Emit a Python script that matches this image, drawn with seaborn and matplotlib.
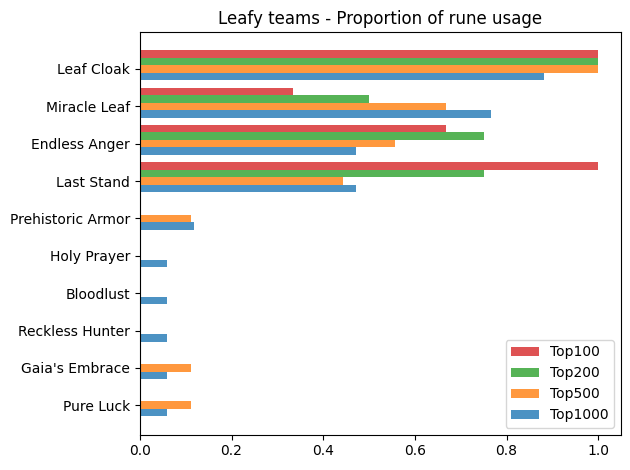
import numpy as np
import pandas as pd
import matplotlib.pyplot as plt
import seaborn as sns

runes = ["Leaf Cloak", "Miracle Leaf", "Endless Anger", "Last Stand", "Prehistoric Armor",
         "Holy Prayer", "Bloodlust", "Reckless Hunter", "Gaia's Embrace", "Pure Luck"]
top100 = [1.0, 0.333, 0.667, 1.0, 0, 0, 0, 0, 0, 0]
top200 = [1.0, 0.5, 0.75, 0.75, 0, 0, 0, 0, 0, 0]
top500 = [1.0, 0.667, 0.556, 0.444, 0.111, 0, 0, 0, 0.111, 0.111]
top1000 = [0.882, 0.765, 0.471, 0.471, 0.118, 0.059, 0.059, 0.059, 0.059, 0.059]
groups = ["Top100", "Top200", "Top500", "Top1000"]
colors = ["tab:red", "tab:green", "tab:orange", "tab:blue"]


def build_frame():
    series = [top100, top200, top500, top1000]
    rows = []
    for name, values in zip(groups, series):
        for rune, v in zip(runes, values):
            rows.append({"rune": rune, "group": name, "proportion": v})
    return pd.DataFrame(rows)


def main():
    df = build_frame()
    fig, ax = plt.subplots(figsize=(6.3, 4.7), dpi=100)
    sns.barplot(data=df, y="rune", x="proportion", hue="group", hue_order=groups,
                palette=colors, alpha=0.8, width=0.8, saturation=1, ax=ax, orient="h")
    # tick marks sit slightly below the centre of each bar group
    ax.set_yticks(np.arange(len(runes)) + 0.1, runes)
    ax.set_ylim(len(runes) - 1 + 0.89, -0.89)
    ax.set_xlim(0, 1.05)
    ax.set_xlabel("")
    ax.set_ylabel("")
    ax.set_title("Leafy teams - Proportion of rune usage")
    ax.legend(loc="lower right")
    fig.subplots_adjust(left=0.222, right=0.986, top=0.932, bottom=0.075)
    fig.savefig("out.png")


if __name__ == "__main__":
    main()
